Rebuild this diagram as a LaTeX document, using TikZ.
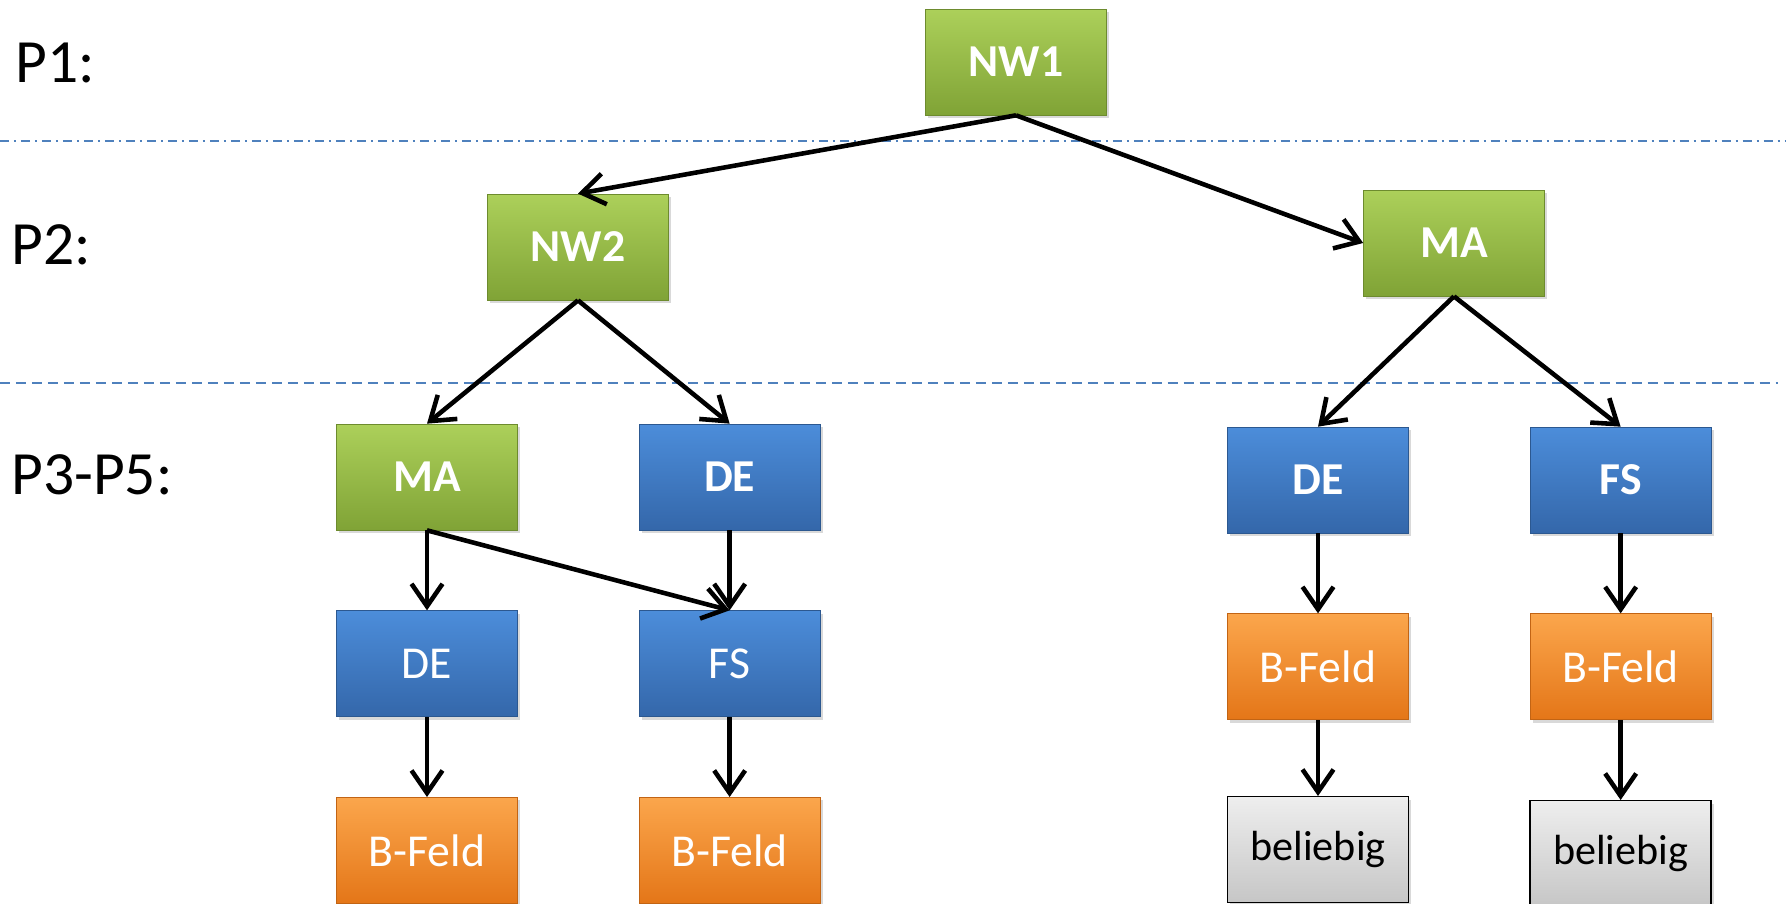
\documentclass[tikz,border=0pt]{standalone}
\usepackage{fontspec}
\setmainfont{Carlito}
\usetikzlibrary{positioning,arrows.meta,shadows}

\definecolor{grtop}{RGB}{172,208,90}
\definecolor{grbot}{RGB}{128,163,54}
\definecolor{bltop}{RGB}{76,141,218}
\definecolor{blbot}{RGB}{52,103,170}
\definecolor{ortop}{RGB}{251,166,76}
\definecolor{orbot}{RGB}{228,118,24}
\definecolor{gytop}{RGB}{238,238,238}
\definecolor{gybot}{RGB}{198,198,198}
\definecolor{trenn}{RGB}{79,129,189}

\tikzset{
  base/.style={rectangle, minimum width=3.62cm, minimum height=2.12cm, inner sep=0pt,
    text=white, font=\fontsize{26}{30}\selectfont,
    drop shadow={opacity=0.3, shadow xshift=0.05cm, shadow yshift=-0.06cm}},
  gruen/.style={base, top color=grtop, bottom color=grbot, draw=grbot!85!black,
    font=\fontsize{26}{30}\selectfont\bfseries},
  blau/.style={base, top color=bltop, bottom color=blbot, draw=blbot!85!black},
  blaufett/.style={blau, font=\fontsize{26}{30}\selectfont\bfseries},
  feld/.style={base, top color=ortop, bottom color=orbot, draw=orbot!85!black},
  grau/.style={base, top color=gytop, bottom color=gybot, draw=black, line width=0.8pt,
    text=black, font=\fontsize{24}{28}\selectfont},
  pfeil/.style={-{Straight Barb[length=0.45cm, width=0.62cm]}, line width=2.6pt},
  ebene/.style={anchor=west, inner sep=0pt, font=\fontsize{35}{40}\selectfont},
}

\begin{document}
\begin{tikzpicture}[x=0.02cm, y=-0.02cm]
    \useasboundingbox (0,0) rectangle (1792,903);

    % Ebenen
    \node[ebene] (p1) at (15,63)  {P1:};
    \node[ebene] (p2) at (11,245) {P2:};
    \node[ebene] (p3) at (11,475) {P3-P5:};
    \coordinate (t1a) at (0,141);   \coordinate (t1b) at (1786,141);
    \coordinate (t2a) at (0,383);   \coordinate (t2b) at (1778,383);
    \draw[trenn, line width=1.1pt, dash pattern=on 0.18cm off 0.1cm on 0.04cm off 0.1cm] (t1a) -- (t1b);
    \draw[trenn, line width=1.1pt, dash pattern=on 0.2cm off 0.12cm] (t2a) -- (t2b);

    % Knoten
    \node[gruen] (nw1) at (1016,62) {NW1};
    \node[gruen] (nw2) at (578,247) {NW2};
    \node[gruen] (ma)  at (1454,243) {MA};

    \node[gruen] (ma2) at (427,477) {MA};
    \node[blaufett, right=2.42cm of ma2] (de2) {DE};
    \node[blau, below=1.6cm of ma2] (de3) {DE};
    \node[blau, below=1.6cm of de2] (fs3) {FS};
    \node[feld, below=1.6cm of de3] (bf1) {B-Feld};
    \node[feld, below=1.6cm of fs3] (bf2) {B-Feld};

    \node[blaufett] (de4) at (1318,480) {DE};
    \node[blaufett, right=2.42cm of de4] (fs4) {FS};
    \node[feld, below=1.6cm of de4] (bf3) {B-Feld};
    \node[feld, below=1.6cm of fs4] (bf4) {B-Feld};
    \node[grau, below=1.52cm of bf3] (bel1) {beliebig};
    \node[grau, below=1.6cm of bf4] (bel2) {beliebig};

    % Kanten
    \draw[pfeil] (nw1.south) -- (nw2.north);
    \draw[pfeil] (nw1.south) -- (ma.west);
    \draw[pfeil] (nw2.south) -- (ma2.north);
    \draw[pfeil] (nw2.south) -- (de2.north);
    \draw[pfeil] (ma2.south) -- (de3.north);
    \draw[pfeil] (ma2.south) -- (fs3.north);
    \draw[pfeil] (de2.south) -- (fs3.north);
    \draw[pfeil] (de3.south) -- (bf1.north);
    \draw[pfeil] (fs3.south) -- (bf2.north);
    \draw[pfeil] (ma.south) -- (de4.north);
    \draw[pfeil] (ma.south) -- (fs4.north);
    \draw[pfeil] (de4.south) -- (bf3.north);
    \draw[pfeil] (fs4.south) -- (bf4.north);
    \draw[pfeil] (bf3.south) -- (bel1.north);
    \draw[pfeil] (bf4.south) -- (bel2.north);
\end{tikzpicture}
\end{document}
